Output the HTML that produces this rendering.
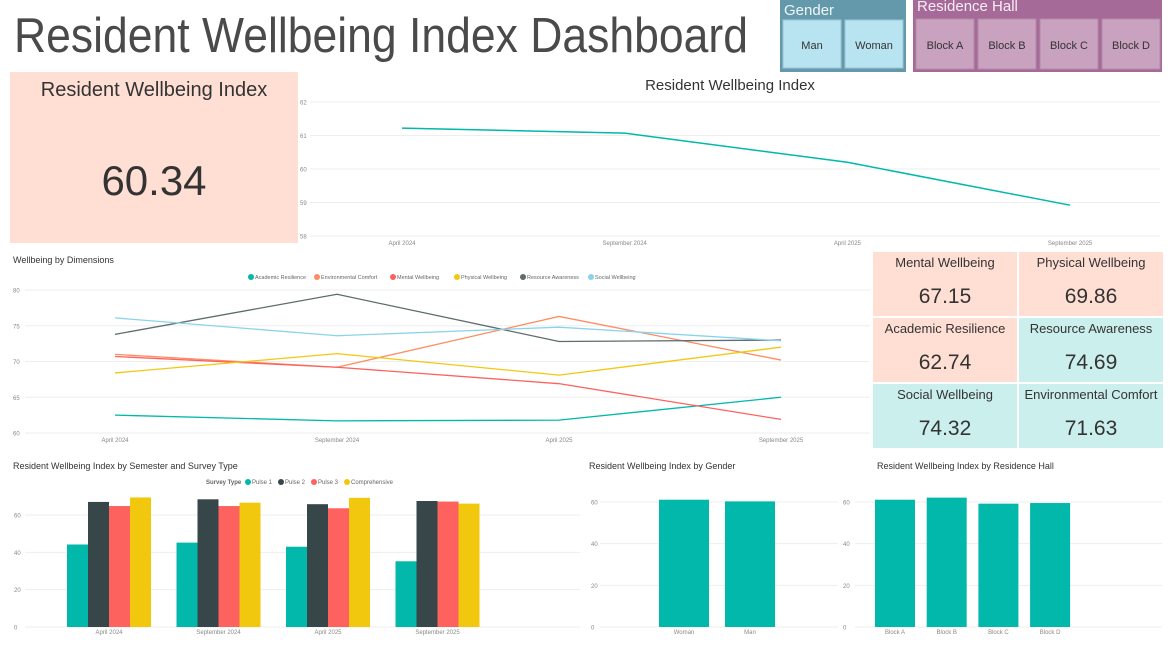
<!DOCTYPE html>
<html><head><meta charset="utf-8"><style>
body{margin:0;background:#fff;width:1170px;height:646px;overflow:hidden;font-family:"Liberation Sans",sans-serif}
svg text{font-family:"Liberation Sans",sans-serif}
</style></head><body>
<svg id="s" width="1170" height="646" xmlns="http://www.w3.org/2000/svg">
<text x="14" y="52" font-size="49" fill="#4a4a4a" textLength="734" lengthAdjust="spacingAndGlyphs">Resident Wellbeing Index Dashboard</text>
<g>
<rect x="780" y="0" width="126" height="72" fill="#6499ab"/>
<text x="784" y="15" font-size="15" fill="#eef6f8">Gender</text>
<rect x="783" y="20" width="58" height="48" fill="#b8e3f1" stroke="#9bc5d3"/>
<text x="812" y="49" font-size="11" fill="#333" text-anchor="middle">Man</text>
<rect x="845" y="20" width="58" height="48" fill="#b8e3f1" stroke="#9bc5d3"/>
<text x="874" y="49" font-size="11" fill="#333" text-anchor="middle">Woman</text>
</g>
<g>
<rect x="913" y="0" width="249" height="72" fill="#a66a99"/>
<text x="917" y="11" font-size="15" fill="#f6eef4">Residence Hall</text>
<rect x="916" y="19" width="58" height="50" fill="#c8a2be" stroke="#b18aa6"/>
<text x="945" y="49" font-size="11" fill="#333" text-anchor="middle">Block A</text>
<rect x="978" y="19" width="58" height="50" fill="#c8a2be" stroke="#b18aa6"/>
<text x="1007" y="49" font-size="11" fill="#333" text-anchor="middle">Block B</text>
<rect x="1040" y="19" width="58" height="50" fill="#c8a2be" stroke="#b18aa6"/>
<text x="1069" y="49" font-size="11" fill="#333" text-anchor="middle">Block C</text>
<rect x="1102" y="19" width="58" height="50" fill="#c8a2be" stroke="#b18aa6"/>
<text x="1131" y="49" font-size="11" fill="#333" text-anchor="middle">Block D</text>
</g>
<g>
<rect x="10" y="72" width="288" height="171" fill="#ffdfd4"/>
<text x="154" y="96" font-size="20" fill="#333" text-anchor="middle">Resident Wellbeing Index</text>
<text x="154" y="195" font-size="42" fill="#333" text-anchor="middle">60.34</text>
</g>
<g id="kpis"></g>
<g id="c1"></g>
<g id="c2"></g>
<g id="c3"></g>
<g id="c4"></g>
<g id="c5"></g>
</svg>
<script>
const NS="http://www.w3.org/2000/svg";
function mk(p,t,a,txt){const e=document.createElementNS(NS,t);for(const k in a)e.setAttribute(k,a[k]);if(txt!==undefined)e.textContent=txt;p.appendChild(e);return e;}

const kpiNames=["Mental Wellbeing","Physical Wellbeing","Academic Resilience","Resource Awareness","Social Wellbeing","Environmental Comfort"];
const kpiValues=["67.15","69.86","62.74","74.69","74.32","71.63"];
const kpiColors=["#ffdfd4","#ffdfd4","#ffdfd4","#cbefec","#cbefec","#cbefec"];
const semesters=["April 2024","September 2024","April 2025","September 2025"];
const indexValues=[61.22,61.07,60.2,58.92];
const indexTicks=[58,59,60,61,62];
const dimNames=["Academic Resilience","Environmental Comfort","Mental Wellbeing","Physical Wellbeing","Resource Awareness","Social Wellbeing"];
const dimColors=["#01b8aa","#fd8d62","#fd625e","#f2c80f","#5f6b6d","#8ad4eb"];
const academic=[62.5,61.7,61.8,65.0];
const environmental=[71.0,69.2,76.3,70.2];
const mental=[70.7,69.2,66.9,61.9];
const physical=[68.4,71.1,68.1,72.0];
const resource=[73.8,79.4,72.8,73.0];
const social=[76.1,73.6,74.8,72.9];
const dimTicks=[60,65,70,75,80];
const surveyTypes=["Pulse 1","Pulse 2","Pulse 3","Comprehensive"];
const surveyColors=["#01b8aa","#374649","#fd625e","#f2c80f"];
const pulse1=[44.2,45.2,43.0,35.2];
const pulse2=[67.0,68.4,65.8,67.5];
const pulse3=[64.8,64.8,63.6,67.2];
const comprehensive=[69.4,66.6,69.2,66.1];
const barTicks=[0,20,40,60];
const genders=["Woman","Man"];
const genderValues=[61.1,60.3];
const halls=["Block A","Block B","Block C","Block D"];
const hallValues=[61.1,62.1,59.2,59.5];

const kg=document.getElementById('kpis');
kpiNames.forEach((n,i)=>{const c=i%2,r=Math.floor(i/2);const x=873+c*146,y=252+r*66;
 const g=mk(kg,'g',{});
 
 
 mk(g,'rect',{x:x,y:y,width:144,height:64,fill:kpiColors[i]});
 mk(g,'text',{x:x+72,y:y+15,'font-size':13,fill:'#333','text-anchor':'middle'},n);
 mk(g,'text',{x:x+72,y:y+51,'font-size':21,fill:'#333','text-anchor':'middle'},kpiValues[i]);
});

function lin(d0,d1,r0,r1){return v=>r0+(v-d0)/(d1-d0)*(r1-r0);}
function gridY(g,ticks,y,x0,x1,lx,fs){ticks.forEach(t=>{const l=mk(g,'line',{x1:x0,x2:x1,y1:y(t),y2:y(t),stroke:'#eeeeee'});const tx=mk(g,'text',{x:lx,y:y(t)+2.5,'font-size':fs,fill:'#888'},t);});}
function xLabels(g,cats,x,y,fs){cats.forEach((c,i)=>{const t=mk(g,'text',{x:x(i),y:y,'font-size':fs,fill:'#888','text-anchor':'middle'},c);});}

(function(){const g=document.getElementById('c1');
 const t=mk(g,'text',{x:730,y:90,'font-size':15,fill:'#333','text-anchor':'middle'},'Resident Wellbeing Index');
 const y=lin(58,62,236,102),x=i=>402+i*222.7;
 gridY(g,indexTicks,y,310,1160,300,6);xLabels(g,semesters,x,245,6);
 const p=mk(g,'polyline',{points:indexValues.map((v,i)=>x(i)+','+y(v)).join(' '),fill:'none',stroke:'#01b8aa','stroke-width':1.5});
 
})();

(function(){const g=document.getElementById('c2');
 const t=mk(g,'text',{x:13,y:263,'font-size':9,fill:'#333'},'Wellbeing by Dimensions');
 const y=lin(60,80,433,290),x=i=>115+i*222;
 gridY(g,dimTicks,y,25,870,13,6);xLabels(g,semesters,x,442,6);
 let lx=248;const lw=[66,76,64,66,68,58];
 dimNames.forEach((n,i)=>{const le=mk(g,'g',{});
  mk(le,'circle',{cx:lx+3,cy:277,r:3,fill:dimColors[i]});mk(le,'text',{x:lx+7,y:279,'font-size':5.5,fill:'#666'},n);lx+=lw[i];});
 const series=[academic,environmental,mental,physical,resource,social];
 series.forEach((s,k)=>{const p=mk(g,'polyline',{points:s.map((v,i)=>x(i)+','+y(v)).join(' '),fill:'none',stroke:dimColors[k],'stroke-width':1.3});
  });
})();

function bars(g,vals,x,y,w,color){vals.forEach((v,i)=>{const r=mk(g,'rect',{x:x(i),y:y(v),width:w,height:y(0)-y(v),fill:color});});}

(function(){const g=document.getElementById('c3');
 const t=mk(g,'text',{x:13,y:469,'font-size':9,fill:'#333'},'Resident Wellbeing Index by Semester and Survey Type');
 const y=lin(0,60,627,515),cx=i=>109+i*109.5;
 gridY(g,barTicks,y,25,580,14,6);xLabels(g,semesters,cx,634,6);
 mk(g,'text',{x:206,y:484,'font-size':6,fill:'#666','font-weight':'bold'},'Survey Type');
 let lx=245;const lw=[33,33,33,60];
 surveyTypes.forEach((n,i)=>{const le=mk(g,'g',{});
  mk(le,'circle',{cx:lx+3,cy:482,r:3,fill:surveyColors[i]});mk(le,'text',{x:lx+7,y:484,'font-size':6,fill:'#666'},n);lx+=lw[i];});
 [pulse1,pulse2,pulse3,comprehensive].forEach((s,k)=>bars(g,s,i=>cx(i)-42+k*21,y,21,surveyColors[k]));
})();

(function(){const g=document.getElementById('c4');
 const t=mk(g,'text',{x:589,y:469,'font-size':9,fill:'#333'},'Resident Wellbeing Index by Gender');
 const y=lin(0,60,627,502),cx=i=>684+i*66;
 gridY(g,barTicks,y,600,838,591,6);xLabels(g,genders,cx,634,6);
 bars(g,genderValues,i=>cx(i)-25,y,50,'#01b8aa');
})();

(function(){const g=document.getElementById('c5');
 const t=mk(g,'text',{x:877,y:469,'font-size':9,fill:'#333'},'Resident Wellbeing Index by Residence Hall');
 const y=lin(0,60,627,502),cx=i=>895+i*51.7;
 gridY(g,barTicks,y,855,1162,843,6);xLabels(g,halls,cx,634,6);
 bars(g,hallValues,i=>cx(i)-20,y,40,'#01b8aa');
})();
</script>
</body></html>
